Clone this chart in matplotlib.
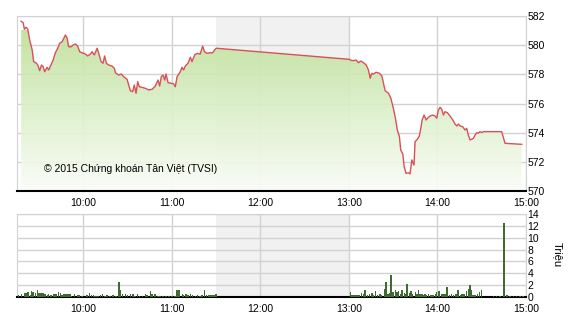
import numpy as np
import matplotlib
matplotlib.use("Agg")
import matplotlib.pyplot as plt
from matplotlib.colors import LinearSegmentedColormap

plt.rcParams['font.family'] = ['Liberation Sans', 'DejaVu Sans']

# price line: minutes since 9:00, index value
price_t = [17.8, 19.2, 20.0, 21.2, 22.3, 23.6, 25.3, 26.3, 28.2, 29.1, 30.4, 31.6, 32.7, 33.8,
           35.4, 36.5, 37.7, 39.5, 41.0, 42.6, 43.9, 45.6, 46.7, 47.8, 49.0, 50.0, 51.7, 53.0,
           54.6, 56.1, 57.5, 59.1, 61.4, 62.9, 64.7, 65.9, 67.4, 69.3, 70.4, 72.0, 73.3, 74.4,
           75.6, 77.1, 79.4, 81.0, 81.7, 83.9, 85.7, 87.3, 89.6, 91.8, 93.4, 94.5, 95.7, 96.8,
           97.9, 99.7, 102.0, 104.2, 106.5, 108.8, 110.6, 111.7, 112.8, 114.0, 115.1, 116.0,
           117.4, 119.6, 121.2, 122.3, 123.5, 125.7, 126.8, 127.9, 129.1, 130.9, 132.5, 133.6,
           135.4, 137.0, 139.2, 140.8, 142.1, 143.8, 146.0, 147.6, 148.9, 150.0,
           240.0, 242.0, 243.0, 244.9, 246.4, 248.1, 249.8, 251.7, 253.2, 254.4, 255.5, 256.6,
           258.4, 260.7, 262.3, 263.4, 264.5, 266.8, 268.4, 270.1, 271.3, 272.8, 274.2, 275.1,
           276.5, 277.4, 278.7, 280.3, 281.4, 282.6, 284.1, 284.8, 286.4, 287.7, 288.7, 289.6,
           290.9, 292.3, 293.8, 295.0, 296.8, 298.4, 299.5, 300.6, 301.8, 302.9, 304.0, 305.1,
           306.7, 308.5, 310.4, 311.9, 313.1, 314.2, 315.3, 317.1, 318.7, 319.8, 320.9, 322.1,
           323.2, 324.3, 325.5, 326.6, 327.7, 328.8, 330.0, 331.1, 343.5, 345.8, 357.1]
price_v = [581.64, 581.54, 581.09, 581.23, 581.09, 580.35, 579.67, 578.87, 578.76, 578.64, 578.25,
           578.64, 578.52, 578.18, 578.48, 578.30, 578.57, 578.98, 579.48, 579.79, 580.13, 580.24,
           580.47, 580.70, 580.47, 579.89, 579.89, 580.01, 580.08, 579.94, 579.55, 579.48, 579.39,
           579.26, 579.39, 579.55, 579.33, 579.79, 579.44, 578.87, 578.76, 579.26, 578.76, 578.64,
           578.57, 578.41, 578.11, 577.95, 578.02, 577.84, 577.66, 576.88, 576.81, 577.27, 576.70,
           577.50, 577.15, 577.11, 577.04, 576.93, 576.97, 577.20, 577.61, 577.20, 577.84, 577.95,
           577.61, 578.02, 577.43, 577.39, 577.34, 577.15, 577.84, 578.18, 578.48, 578.30, 578.57,
           578.76, 579.17, 578.87, 579.33, 579.44, 579.39, 579.94, 579.55, 579.44, 579.48, 579.48,
           579.67, 579.79,
           579.03, 578.94, 578.94, 578.98, 578.80, 578.91, 578.80, 578.64, 578.30, 577.73, 578.07,
           578.02, 578.14, 578.07, 577.89, 577.39, 576.88, 576.70, 576.36, 575.67, 575.09, 574.18,
           573.72, 572.81, 572.54, 571.67, 571.21, 571.25, 571.17, 572.13, 571.78, 573.38, 573.55,
           573.77, 574.30, 574.87, 575.21, 574.87, 575.05, 575.14, 575.21, 575.14, 574.99, 575.55,
           575.74, 575.60, 575.21, 575.44, 575.37, 575.14, 574.87, 574.59, 574.46, 574.59, 574.46,
           574.41, 574.18, 574.30, 573.84, 573.50, 573.55, 573.61, 573.84, 574.00, 573.96, 574.07,
           574.00, 574.07, 574.07, 573.27, 573.20]

# volume bars: minutes since 9:00, millions of shares
vol_t = [16, 18, 20, 21, 22.5, 24, 25, 26, 27.5, 29, 30, 31, 32, 33, 34, 35.5, 36.5, 38, 40, 41.5,
         43, 44.5, 45.5, 47, 48, 49, 50, 51, 52, 54, 56, 57, 59, 62.5, 64, 65.5, 67, 68, 69, 70,
         71.5, 73, 74.5, 76, 78, 80, 82, 84, 85, 86.5, 88.5, 90, 92, 93.5, 95, 96.5, 98, 100,
         102, 103, 105.5, 106.5, 108.5, 110.5, 112, 114, 116, 118, 120, 122, 123, 124, 125,
         127, 128, 129.5, 131, 132.5, 134, 136, 137.5, 139, 140.5, 142, 143.5, 145, 146, 147,
         148, 149, 150,
         241, 242, 243, 244, 245, 246, 247, 248.5, 250, 251, 252.5, 254, 255.5, 256.5, 258,
         259.5, 261, 262, 264, 265, 266.5, 267.5, 268.5, 270, 271.5, 272.5, 273.5, 275, 276,
         277.5, 278.5, 279.5, 281, 282, 283, 285, 286, 287, 288, 289.5, 290.5, 291.5, 292.5,
         294, 295.5, 297, 298.5, 299.5, 301, 303, 304, 305, 306.5, 308, 309.5, 311, 312.5,
         314, 315.5, 316.5, 318, 319.5, 321, 322, 323, 324, 325.5, 327, 328.5, 330, 338, 340,
         342.5, 345, 347, 349, 351.5, 353.5, 356, 358]
vol_v = [0.28, 0.56, 0.67, 0.67, 0.84, 0.28, 1.0, 0.84, 0.67, 1.12, 0.67, 0.67, 0.67, 0.67, 0.56,
         0.28, 0.45, 0.28, 0.45, 0.56, 0.84, 0.67, 0.28, 0.45, 0.45, 0.45, 0.45, 0.45, 0.17,
         0.56, 0.28, 0.28, 0.17, 0.28, 0.67, 0.28, 0.28, 0.22, 0.22, 0.22, 0.28, 0.45, 0.22,
         0.28, 0.22, 0.34, 0.22, 2.5, 1.12, 0.56, 0.45, 0.28, 0.56, 0.45, 0.22, 0.45, 0.17,
         0.17, 0.56, 0.28, 1.0, 0.45, 0.56, 0.22, 0.17, 0.17, 0.17, 0.17, 0.17, 0.17, 1.12,
         1.12, 1.12, 0.45, 0.28, 0.45, 0.28, 0.45, 0.28, 0.22, 0.28, 0.22, 0.28, 1.24, 0.28,
         0.28, 0.28, 0.28, 0.28, 0.28, 0.45,
         0.84, 0.28, 0.28, 0.28, 0.28, 0.28, 0.28, 0.67, 0.45, 1.12, 0.28, 0.45, 0.67, 0.28,
         1.0, 0.28, 0.45, 0.28, 1.4, 2.5, 0.56, 0.67, 3.64, 0.84, 1.23, 0.84, 1.0, 0.56, 1.12,
         0.67, 0.45, 2.24, 0.67, 1.0, 0.56, 0.84, 0.56, 1.12, 0.45, 0.56, 0.28, 0.45, 0.28,
         0.45, 0.28, 0.28, 0.45, 0.84, 1.0, 0.56, 0.45, 0.45, 1.68, 0.28, 0.45, 0.28, 0.45,
         1.12, 0.28, 0.45, 0.56, 1.0, 1.4, 1.96, 1.12, 0.28, 0.28, 0.45, 0.84, 1.12, 0.17,
         0.17, 0.17, 12.4, 0.28, 0.17, 0.17, 0.17, 0.17, 0.17]

hour_ticks = [60, 120, 180, 240, 300, 360]
hour_labels = ['10:00', '11:00', '12:00', '13:00', '14:00', '15:00']

GRID = '#d2d2d2'
XMIN, XMAX = 15, 360

fig = plt.figure(figsize=(5.7, 3.2), dpi=100)
ax1 = fig.add_axes([17/570, 1-191/320, 509/570, 175/320])
ax2 = fig.add_axes([17/570, 1-297/320, 509/570, 83/320])


def style(ax, ymin, ymax, step):
    ax.set_xlim(XMIN, XMAX)
    ax.set_ylim(ymin, ymax)
    ax.axvspan(150, 240, color='#f1f1f1', zorder=0, lw=0)
    ax.set_xticks(hour_ticks)
    ax.set_xticklabels(hour_labels)
    ax.set_yticks(np.arange(ymin, ymax + 1, step))
    ax.yaxis.tick_right()
    ax.grid(True, color=GRID, lw=1, zorder=1)
    ax.set_axisbelow(True)
    ax.tick_params(axis='both', length=0, labelsize=7.5, colors='black')
    ax.tick_params(axis='x', pad=5)
    ax.tick_params(axis='y', pad=1)
    for s in ['top', 'left', 'right']:
        ax.spines[s].set_color(GRID)
    ax.spines['bottom'].set_color('black')
    ax.spines['bottom'].set_linewidth(1.5)


style(ax1, 570, 582, 2)
style(ax2, 0, 14, 2)

# gradient fill below the price line
poly = ax1.fill_between(price_t, price_v, 570, color='none', lw=0)
cmap = LinearSegmentedColormap.from_list('g', ['#fbfdf8', '#dcf0ca', '#bfe09b'])
grad = np.linspace(0, 1, 256).reshape(-1, 1)
img = ax1.imshow(grad, cmap=cmap, aspect='auto', origin='lower',
                 extent=[XMIN, XMAX, 570, 581], zorder=2, alpha=0.92)
img.set_clip_path(poly.get_paths()[0], transform=ax1.transData)
ax1.plot(price_t, price_v, color='#d9505a', lw=1, zorder=3)
ax1.text(33, 571.5, '© 2015 Chứng khoán Tân Việt (TVSI)', fontsize=7.5,
         transform=ax1.transData, va='center', ha='left', zorder=4)

ax2.bar(vol_t, vol_v, width=1.0, color='#3f6b33', zorder=3, align='center')
fig.text(558/570, 1-255/320, 'Triệu', rotation=270, fontsize=8, va='center', ha='center')

fig.savefig('out.png', dpi=100)
